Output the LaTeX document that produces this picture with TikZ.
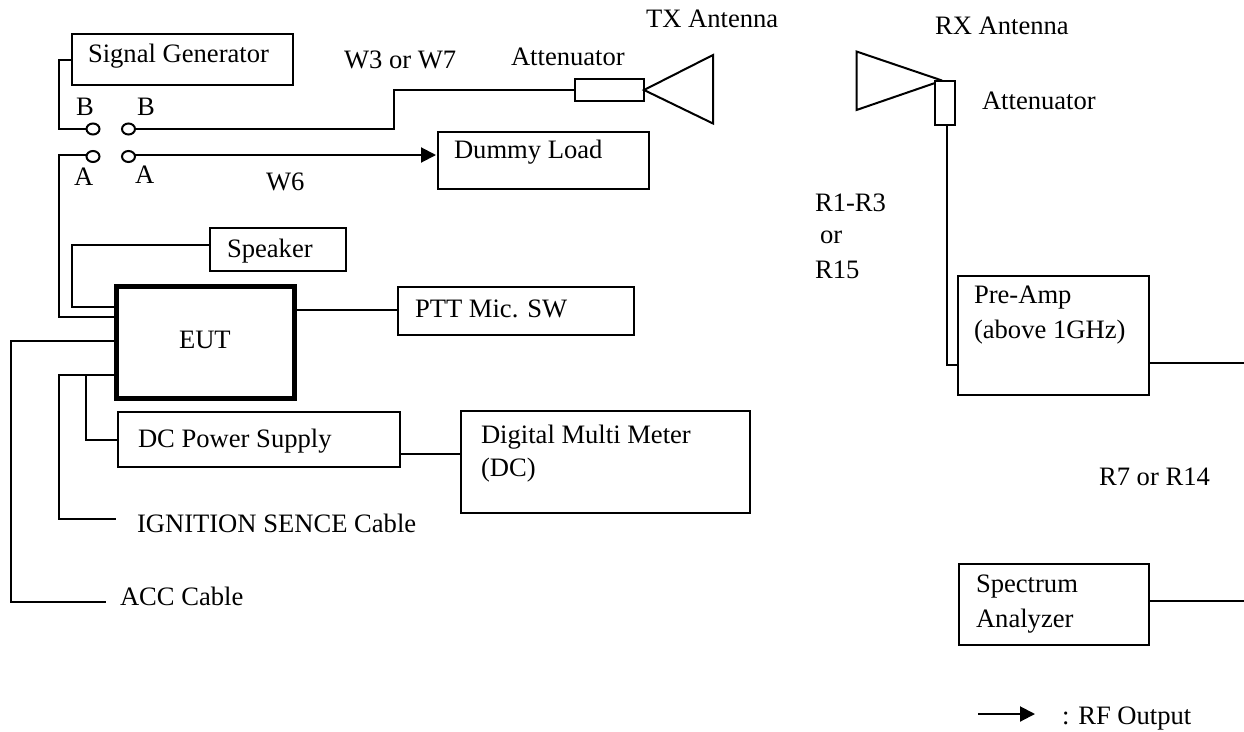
\documentclass[tikz,border=0pt]{standalone}
\usepackage{fontspec}
\setmainfont{Liberation Serif}
\usetikzlibrary{arrows.meta,shapes.geometric}
% one-line and two-line box contents: height, width, x offset, baseline offset, text
\newcommand\oneline[5]{\vbox to #1pt{\offinterlineskip\hbox to #2pt{\vrule width 0pt height #4pt\kern#3pt\smash{#5}\hss}\vss}}
\newcommand\twolines[7]{\vbox to #1pt{\offinterlineskip\hbox to #2pt{\vrule width 0pt height #4pt\kern#3pt\smash{#5}\hss}\hbox to #2pt{\vrule width 0pt height #6pt\kern#3pt\smash{#7}\hss}\vss}}
\tikzset{
  wire/.style={line width=2pt,line join=miter},
  rfwire/.style={wire,-{Triangle[length=15pt,width=15pt]},shorten >=2pt},
  boxnode/.style={draw,line width=2pt,rectangle,inner sep=0pt,outer sep=0pt,anchor=north west,font=\fontsize{26.6}{30}\selectfont},
  eutnode/.style={boxnode,line width=5pt},
  term/.style={draw,line width=2pt,ellipse,inner sep=0pt,outer sep=0pt,minimum width=13pt,minimum height=11pt},
  lbl/.style={inner sep=0pt,outer sep=0pt,anchor=base west,font=\fontsize{26.6}{30}\selectfont}
}
\begin{document}
\begin{tikzpicture}[x=1pt,y=-1pt]
\useasboundingbox (0,0) rectangle (1244,731);
% boxes
\node[boxnode] (sg) at (71.5,34) {\oneline{50.5}{221}{16.5}{28}{Signal Generator}};
\node[boxnode] (dummy) at (438,131.5) {\oneline{57}{211}{16}{26.5}{Dummy Load}};
\node[boxnode] (spk) at (210,227.5) {\oneline{43}{135.5}{17}{29.5}{Speaker}};
\node[eutnode] (eut) at (116,286) {\oneline{112}{178}{63}{62}{EUT}};
\node[boxnode] (ptt) at (398,287) {\oneline{48}{236}{17}{30}{PTT Mic. SW}};
\node[boxnode] (dc) at (118,411.5) {\oneline{55.5}{282}{20}{35.5}{DC Power Supply}};
\node[boxnode] (dmm) at (461,411) {\twolines{102}{289}{20}{32}{Digital Multi Meter}{33}{(DC)}};
\node[boxnode] (txatt) at (574.5,79) {\oneline{22}{69.5}{0}{0}{}};
\node[boxnode] (rxatt) at (935,81) {\oneline{44}{20}{0}{0}{}};
\node[boxnode] (pre) at (957.5,275.5) {\twolines{119}{191.5}{16.5}{27.5}{Pre-Amp}{35}{(above 1GHz)}};
\node[boxnode] (sa) at (959,563.5) {\twolines{81.5}{190}{17}{28.5}{Spectrum}{35}{Analyzer}};
% switch terminals
\node[term] (bl) at (93,129) {};
\node[term] (br) at (128.5,129) {};
\node[term] (al) at (93,156.5) {};
\node[term] (ar) at (128.5,156.5) {};
% free ends
\coordinate (ign) at (116,519);
\coordinate (acc) at (106,602);
\coordinate (preout) at (1244,363);
\coordinate (saout) at (1244,601);
\coordinate (legA) at (978,714);
\coordinate (legB) at (1035,714);
% connectors
\draw[wire] (sg.west |- 0,60) -- (59,60) -- (59,129) -- (bl.west);
\draw[wire] (br.east) -- (394,129) -- (394,90) -- (txatt.west);
\draw[rfwire] (ar.east |- 0,155) -- (dummy.west |- 0,155);
\draw[wire] (al.west |- 0,155) -- (59,155) -- (59,316.5) -- (eut.west |- 0,316.5);
\draw[wire] (spk.west |- 0,244.5) -- (72,244.5) -- (72,307) -- (eut.west |- 0,307);
\draw[wire] (eut.east |- 0,309.5) -- (ptt.west |- 0,309.5);
\draw[wire] (eut.west |- 0,341) -- (11,341) -- (11,602) -- (acc);
\draw[wire] (eut.west |- 0,375) -- (59,375) -- (59,519) -- (ign);
\draw[wire] (86,375) -- (86,439.5) -- (dc.west |- 0,439.5);
\draw[wire] (dc.east |- 0,454) -- (dmm.west |- 0,454);
\draw[wire] (947,0 |- rxatt.south) -- (947,365) -- (pre.west |- 0,365);
\draw[wire] (pre.east |- preout) -- (preout);
\draw[wire] (sa.east |- saout) -- (saout);
\draw[rfwire,shorten >=0pt] (legA) -- (legB);
% antennas
\draw[wire] (txatt.east) -- (713,55) -- (713,123.5) -- cycle;
\draw[wire] (942,80.5) -- (856.5,51.5) -- (856.5,110) -- (935,83);
% labels
\node[lbl] (lB1) at (76,115) {B};
\node[lbl] (lB2) at (137,115) {B};
\node[lbl] (lA1) at (74,185) {A};
\node[lbl] (lA2) at (135,183) {A};
\node[lbl] (lW6) at (266,190) {W6};
\node[lbl] (lW3) at (344,68) {W3 or W7};
\node[lbl] (lTA) at (511,65) {Attenuator};
\node[lbl] (lTX) at (646,27) {TX Antenna};
\node[lbl] (lRX) at (935,34) {RX Antenna};
\node[lbl] (lRA) at (982,109) {Attenuator};
\node[lbl] (lR1) at (815,211) {R1-R3};
\node[lbl] (lor) at (820,243) {or};
\node[lbl] (lR15) at (815,278) {R15};
\node[lbl] (lR7) at (1099,485) {R7 or R14};
\node[lbl] (lIG) at (137,532) {IGNITION SENCE Cable};
\node[lbl] (lAC) at (120,605) {ACC Cable};
\node[lbl] (lRF) at (1062,724) {: RF Output};
\end{tikzpicture}
\end{document}
